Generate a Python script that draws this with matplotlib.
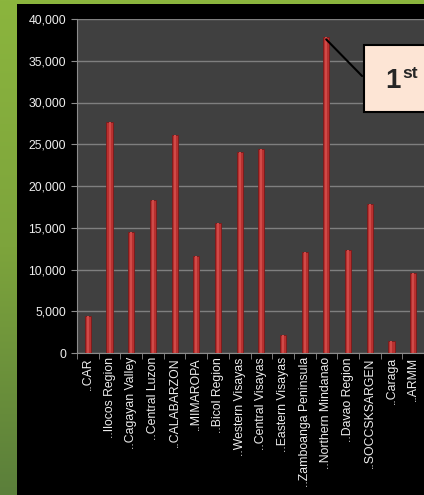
import numpy as np
import matplotlib
matplotlib.use("Agg")
import matplotlib.pyplot as plt
from matplotlib.patches import Rectangle
from matplotlib.colors import LinearSegmentedColormap

regions = ["..CAR", "..Ilocos Region", "..Cagayan Valley", "..Central Luzon", "..CALABARZON",
           "..MIMAROPA", "..Bicol Region", "..Western Visayas", "..Central Visayas",
           "..Eastern Visayas", "..Zamboanga Peninsula", "..Northern Mindanao",
           "..Davao Region", "..SOCCSKSARGEN", "..Caraga", "..ARMM"]
values = [4400, 27700, 14500, 18300, 26100, 11600, 15600, 24100, 24400,
          2100, 12100, 37800, 12300, 17900, 1400, 9600]
yticks = [0, 5000, 10000, 15000, 20000, 25000, 30000, 35000, 40000]

W, H = 424, 495
fig = plt.figure(figsize=(W / 100, H / 100), dpi=100)

# green gradient background
bg = fig.add_axes([0, 0, 1, 1], zorder=-10)
cmap = LinearSegmentedColormap.from_list("g", ["#8BB53E", "#7DA43C", "#5B7F3A"])
grad = np.linspace(0, 1, 256).reshape(-1, 1)
bg.imshow(grad, aspect="auto", cmap=cmap, extent=[0, 1, 0, 1], origin="upper")
bg.set_axis_off()
bg.add_patch(Rectangle((17 / W, 0), 1, 1 - 4 / H, transform=bg.transAxes,
                       facecolor="black", edgecolor="none"))
bg.set_xlim(0, 1); bg.set_ylim(0, 1)

ax = fig.add_axes([77 / W, 1 - 353 / H, (W - 77) / W, (353 - 19) / H])
ax.set_facecolor("#404040")
x = np.arange(len(regions))
ax.bar(x, values, width=0.28, color="#B8302F", edgecolor="#7A1A1A", linewidth=0.6, zorder=3)
ax.bar(x, values, width=0.09, color="#D04A48", edgecolor="none", zorder=4)

ax.set_xlim(-0.5, len(regions) - 0.5)
ax.set_ylim(0, 40000)
ax.set_yticks(yticks)
ax.set_yticklabels([f"{v:,}" for v in yticks], color="#EEEEEE", fontsize=8.8,
                   family=["Liberation Sans", "DejaVu Sans"])
ax.grid(axis="y", color="#7F7F7F", linewidth=1, zorder=1)
ax.set_xticks(x)
ax.set_xticklabels(regions, rotation=90, color="#EEEEEE", fontsize=8.8,
                   family=["Liberation Sans", "DejaVu Sans"])
ax.tick_params(axis="x", length=0, pad=3)
ax.set_xticks(np.arange(-0.5, len(regions), 1), minor=True)
ax.tick_params(axis="x", which="minor", length=4, color="#8C8C8C", direction="out")
ax.tick_params(axis="y", length=4, color="#8C8C8C", pad=4)
for s in ["top", "right"]:
    ax.spines[s].set_visible(False)
for s in ["left", "bottom"]:
    ax.spines[s].set_color("#8C8C8C")

# annotation box
top_i = int(np.argmax(values))
ax.annotate("", xy=(top_i - 0.1, values[top_i]), xycoords="data",
            xytext=(364 / W, 1 - 78 / H), textcoords="figure fraction",
            arrowprops=dict(arrowstyle="-", color="black", lw=1.5), zorder=6)
fig.patches.append(Rectangle((364 / W, 1 - 112 / H), 70 / W, 67 / H,
                             transform=fig.transFigure, facecolor="#FDE5D5",
                             edgecolor="black", linewidth=1.5, zorder=7))
fig.text(393 / W, 1 - 81 / H, "1", fontsize=20, fontweight="bold", color="#262626",
         ha="center", va="center", family="Liberation Sans", zorder=8)
fig.text(402 / W, 1 - 74 / H, "st", fontsize=12.5, fontweight="bold", color="#262626",
         ha="left", va="center", family="Liberation Sans", zorder=8)

fig.savefig("out.png", dpi=100, facecolor="#7DA43C")
